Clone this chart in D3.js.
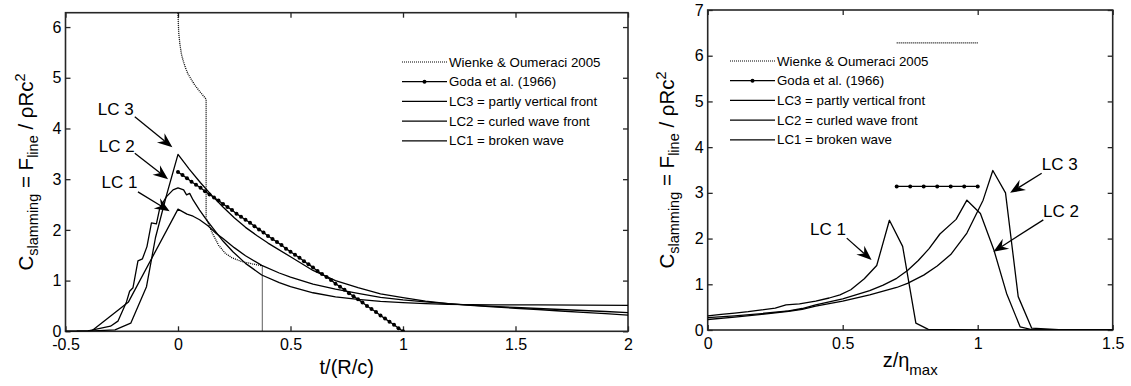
<!DOCTYPE html>
<html><head><meta charset="utf-8">
<script src="https://cdn.jsdelivr.net/npm/d3@7"></script>
<style>
body{margin:0;background:#fff}
svg{display:block}
text{font-family:'Liberation Sans',Arial,Helvetica,sans-serif;fill:#000}
</style>
</head><body>
<svg id="c" width="1131" height="386"></svg>
<script>
// ---------- Left panel data: C_slamming vs t/(R/c) ----------
const tTicksL = [-0.5, 0, 0.5, 1, 1.5, 2];
const tTickLabelsL = ["-0.5", "0", "0.5", "1", "1.5", "2"];
const cTicksL = [0, 1, 2, 3, 4, 5, 6];
const cTickLabelsL = ["0", "1", "2", "3", "4", "5", "6"];
const cMaxL = 6.2832;

const lc1T = [-0.5,-0.45,-0.4,-0.38,-0.22,0,0.04,0.067,0.096,0.133,0.17,0.2,0.25,0.3,0.372,0.45,0.5,0.6,0.7,0.8,0.9,1.0,1.1,1.2,1.3,1.4,1.5,1.6,1.7,1.8,1.9,2.0];
const lc1C = [0,0.002,0.01,0.02,0.58,2.41,2.31,2.27,2.2,2.08,1.93,1.83,1.65,1.49,1.3,1.15,1.07,0.93,0.83,0.75,0.67,0.62,0.58,0.545,0.515,0.49,0.47,0.45,0.43,0.41,0.39,0.37];

const lc2T = [-0.5,-0.45,-0.4,-0.378,-0.3,-0.267,-0.229,-0.215,-0.2,-0.178,-0.158,-0.138,-0.118,-0.096,-0.081,-0.052,-0.022,0,0.025,0.038,0.052,0.067,0.096,0.126,0.156,0.2,0.244,0.3,0.372,0.45,0.5,0.6,0.7,0.8,0.9,1.0,1.1,1.2,1.4,1.6,1.8,2.0];
const lc2C = [0,0.002,0.01,0.03,0.1,0.2,0.58,0.79,0.86,1.39,1.43,1.67,2.14,2.12,2.43,2.65,2.79,2.83,2.79,2.69,2.72,2.59,2.39,2.2,2.03,1.78,1.57,1.34,1.11,0.96,0.88,0.76,0.68,0.63,0.59,0.565,0.545,0.53,0.52,0.52,0.515,0.51];

const lc3T = [-0.5,-0.4,-0.28,-0.21,-0.14,-0.1,-0.05,0,0.05,0.1,0.15,0.2,0.25,0.3,0.35,0.4,0.5,0.6,0.7,0.8,0.9,1.0,1.1,1.2,1.3,1.4,1.5,1.6,1.7,1.8,1.9,2.0];
const lc3C = [0,0.005,0.03,0.16,0.88,1.85,2.7,3.49,3.2,2.93,2.68,2.45,2.24,2.05,1.89,1.74,1.47,1.2,1.0,0.86,0.74,0.665,0.595,0.545,0.51,0.48,0.455,0.43,0.40,0.375,0.35,0.32];

const wienkeT = [0,0.003,0.008,0.015,0.022,0.033,0.044,0.06,0.074,0.1,0.125,0.125,0.15,0.18,0.21,0.24,0.28,0.33,0.375,0.375];
const wienkeC = [6.28,5.9,5.68,5.47,5.35,5.2,5.08,4.96,4.86,4.71,4.58,2.23,1.96,1.7,1.54,1.45,1.38,1.33,1.29,0];

const godaT = [0,0.02,0.04,0.06,0.08,0.1,0.12,0.14,0.16,0.18,0.2,0.22,0.24,0.26,0.28,0.3,0.32,0.34,0.36,0.38,0.4,0.42,0.44,0.46,0.48,0.5,0.52,0.54,0.56,0.58,0.6,0.62,0.64,0.66,0.68,0.7,0.72,0.74,0.76,0.78,0.8,0.82,0.84,0.86,0.88,0.9,0.92,0.94,0.96,0.98,1.0];
const godaC = [3.14,3.08,3.02,2.95,2.89,2.83,2.76,2.70,2.64,2.58,2.51,2.45,2.39,2.32,2.26,2.20,2.14,2.07,2.01,1.95,1.88,1.82,1.76,1.70,1.63,1.57,1.51,1.45,1.38,1.32,1.26,1.19,1.13,1.07,1.01,0.94,0.88,0.82,0.75,0.69,0.63,0.57,0.50,0.44,0.38,0.31,0.25,0.19,0.13,0.06,0.00];

// ---------- Right panel data: C_slamming vs z/eta_max ----------
const zTicksR = [0, 0.5, 1, 1.5];
const zTickLabelsR = ["0", "0.5", "1", "1.5"];
const cTicksR = [0, 1, 2, 3, 4, 5, 6, 7];
const cTickLabelsR = ["0", "1", "2", "3", "4", "5", "6", "7"];

const lc1Z = [0,0.05,0.1,0.15,0.2,0.25,0.29,0.34,0.4,0.45,0.49,0.53,0.58,0.626,0.673,0.722,0.771,0.817,0.9,1.0,1.2,1.5];
const lc1CR = [0.31,0.34,0.37,0.40,0.44,0.48,0.55,0.57,0.63,0.70,0.77,0.88,1.12,1.41,2.40,1.83,0.15,0.015,0.006,0.004,0.002,0];
const lc2Z = [0,0.1,0.2,0.3,0.35,0.4,0.5,0.6,0.65,0.7,0.74,0.78,0.82,0.86,0.92,0.96,1.01,1.06,1.107,1.157,1.2,1.5];
const lc2CR = [0.27,0.31,0.36,0.42,0.47,0.55,0.68,0.86,0.98,1.13,1.30,1.52,1.78,2.10,2.42,2.84,2.55,1.75,0.80,0.07,0.01,0];
const lc3Z = [0,0.1,0.2,0.3,0.35,0.4,0.5,0.6,0.7,0.74,0.8,0.85,0.9,0.96,1.02,1.056,1.103,1.15,1.2,1.3,1.5];
const lc3CR = [0.23,0.28,0.34,0.41,0.45,0.52,0.63,0.77,0.93,1.02,1.2,1.4,1.65,2.12,2.84,3.49,3.0,0.73,0.04,0.005,0];
const wienkeZ = [0.7, 1.0];
const wienkeCR = [6.28, 6.28];
const godaZ = [0.7, 0.75, 0.8, 0.85, 0.9, 0.95, 1.0];
const godaCR = [3.14, 3.14, 3.14, 3.14, 3.14, 3.14, 3.14];

const legendLabels = ["Wienke & Oumeraci 2005", "Goda et al. (1966)", "LC3 = partly vertical front", "LC2 = curled wave front", "LC1 = broken wave"];
const annotLabels = ["LC 3", "LC 2", "LC 1"];

// annotations in data units: [textX, textY, fromX, fromY, tipX, tipY]
const annotL = [[-0.357,4.27,-0.192,4.23,-0.025,3.63],[-0.352,3.54,-0.192,3.51,-0.044,3.0],[-0.34,2.83,-0.178,2.75,-0.037,2.37]];
const annotR = [[1.237,3.50,1.237,3.43,1.12,3.0],[1.242,2.48,1.243,2.41,1.058,1.71],[0.379,2.08,0.515,2.01,0.607,1.53]];

// ---------- drawing ----------
const svg = d3.select("#c");
const AX = "#262626";

const xL = d3.scaleLinear().domain([-0.5, 2]).range([65.5, 628]);
const yL = d3.scaleLinear().domain([0, cMaxL]).range([331.3, 12.7]);
const xR = d3.scaleLinear().domain([0, 1.5]).range([707.7, 1112.7]);
const yR = d3.scaleLinear().domain([0, 7]).range([330, 10]);

function panel(id, x, y, xt, xtl, yt, ytl) {
  const g = svg.append("g");
  const [xa, xb] = x.range(), [ya, yb] = y.range();
  g.append("clipPath").attr("id", id).append("rect")
    .attr("x", xa).attr("y", yb).attr("width", xb - xa).attr("height", ya - yb);
  const ax = [];
  ax.push(g.append("g").attr("transform", `translate(0,${ya})`)
    .call(d3.axisBottom(x).tickValues(xt).tickFormat((d, i) => xtl[i]).tickSizeInner(-5).tickSizeOuter(0).tickPadding(7.5)));
  ax.push(g.append("g").attr("transform", `translate(0,${yb})`)
    .call(d3.axisTop(x).tickValues(xt).tickFormat("").tickSizeInner(-5).tickSizeOuter(0)));
  ax.push(g.append("g").attr("transform", `translate(${xa},0)`)
    .call(d3.axisLeft(y).tickValues(yt).tickFormat((d, i) => ytl[i]).tickSizeInner(-5).tickSizeOuter(0).tickPadding(4)));
  ax.push(g.append("g").attr("transform", `translate(${xb},0)`)
    .call(d3.axisRight(y).tickValues(yt).tickFormat("").tickSizeInner(-5).tickSizeOuter(0)));
  ax.forEach(a => {
    a.select(".domain").remove();
    a.selectAll(".tick line").attr("stroke", AX).attr("stroke-width", 1.3);
    a.selectAll(".tick text").attr("font-size", 16).attr("fill", "#000")
      .attr("font-family", "'Liberation Sans',Arial,sans-serif");
  });
  g.append("rect").attr("x", xa).attr("y", yb).attr("width", xb - xa).attr("height", ya - yb)
    .attr("fill", "none").attr("stroke", AX).attr("stroke-width", 1.6);
  const plot = g.append("g").attr("clip-path", `url(#${id})`);
  return { g, plot };
}

function curve(plot, x, y, xs, ys, opts = {}) {
  const pts = xs.map((v, i) => [v, ys[i]]);
  const line = d3.line().x(d => x(d[0])).y(d => y(d[1]));
  plot.append("path").attr("d", line(pts)).attr("fill", "none")
    .attr("stroke", "#000").attr("stroke-width", opts.w || 1.3)
    .attr("stroke-dasharray", opts.dash || null)
    .attr("stroke-linejoin", "round");
  if (opts.dots) {
    plot.selectAll(null).data(pts).enter().append("circle")
      .attr("cx", d => x(d[0])).attr("cy", d => y(d[1])).attr("r", 2).attr("fill", "#000");
  }
}

function legend(g, x0, y0) {
  legendLabels.forEach((lab, i) => {
    const yy = y0 + i * 19.7;
    g.append("line").attr("x1", x0).attr("x2", x0 + 45).attr("y1", yy).attr("y2", yy)
      .attr("stroke", "#000").attr("stroke-width", i === 0 ? 1.2 : 1.3)
      .attr("stroke-dasharray", i === 0 ? "1,1" : null);
    if (i === 1) g.append("circle").attr("cx", x0 + 22.5).attr("cy", yy).attr("r", 2).attr("fill", "#000");
    g.append("text").attr("x", x0 + 47).attr("y", yy + 4.6).attr("font-size", 13.3).text(lab);
  });
}

function arrow(g, x, y, a) {
  const [tx, ty, fx, fy, px, py] = a;
  const x1 = x(fx), y1 = y(fy), x2 = x(px), y2 = y(py);
  const ang = Math.atan2(y2 - y1, x2 - x1);
  const L = 15, W = 6, N = 10;
  const c = Math.cos(ang), s = Math.sin(ang);
  const bx = x2 - N * c, by = y2 - N * s;
  g.append("line").attr("x1", x1).attr("y1", y1).attr("x2", bx).attr("y2", by)
    .attr("stroke", "#000").attr("stroke-width", 1.3);
  const p1 = [x2 - L * c - W * s, y2 - L * s + W * c];
  const p2 = [x2 - L * c + W * s, y2 - L * s - W * c];
  g.append("path").attr("d", `M${x2},${y2}L${p1[0]},${p1[1]}L${bx},${by}L${p2[0]},${p2[1]}Z`).attr("fill", "#000");
}

// Left panel
const PL = panel("clipL", xL, yL, tTicksL, tTickLabelsL, cTicksL, cTickLabelsL);
curve(PL.plot, xL, yL, wienkeT, wienkeC, { dash: "1,1", w: 1.3 });
curve(PL.plot, xL, yL, godaT, godaC, { dots: true });
curve(PL.plot, xL, yL, lc3T, lc3C);
curve(PL.plot, xL, yL, lc2T, lc2C);
curve(PL.plot, xL, yL, lc1T, lc1C);
legend(PL.g, 402, 62);
annotL.forEach((a, i) => {
  PL.g.append("text").attr("x", xL(a[0])).attr("y", yL(a[1])).attr("font-size", 17).text(annotLabels[i]);
  arrow(PL.g, xL, yL, a);
});

// Right panel
const PR = panel("clipR", xR, yR, zTicksR, zTickLabelsR, cTicksR, cTickLabelsR);
curve(PR.plot, xR, yR, wienkeZ, wienkeCR, { dash: "1,1", w: 1.3 });
curve(PR.plot, xR, yR, godaZ, godaCR, { dots: true });
curve(PR.plot, xR, yR, lc3Z, lc3CR);
curve(PR.plot, xR, yR, lc2Z, lc2CR);
curve(PR.plot, xR, yR, lc1Z, lc1CR);
legend(PR.g, 730, 61);
annotR.forEach((a, i) => {
  PR.g.append("text").attr("x", xR(a[0])).attr("y", yR(a[1])).attr("font-size", 17).text(annotLabels[i]);
  arrow(PR.g, xR, yR, a);
});

// Axis labels
function yLabel(cx, cy) {
  const t = svg.append("text").attr("transform", `translate(${cx},${cy}) rotate(-90)`)
    .attr("text-anchor", "middle").attr("font-size", 20.5);
  t.append("tspan").text("C");
  t.append("tspan").attr("font-size", 14.5).attr("dy", 5).text("slamming");
  t.append("tspan").attr("dy", -5).text(" = F");
  t.append("tspan").attr("font-size", 14.5).attr("dy", 5).text("line");
  t.append("tspan").attr("dy", -5).text(" / ρRc");
  t.append("tspan").attr("font-size", 14.5).attr("dy", -8).text("2");
}
yLabel(33, 172);
yLabel(674, 170);

svg.append("text").attr("x", (xL.range()[0] + xL.range()[1]) / 2).attr("y", 374)
  .attr("text-anchor", "middle").attr("font-size", 20).text("t/(R/c)");
const xlR = svg.append("text").attr("x", (xR.range()[0] + xR.range()[1]) / 2).attr("y", 367)
  .attr("text-anchor", "middle").attr("font-size", 20);
xlR.append("tspan").text("z/η");
xlR.append("tspan").attr("font-size", 15).attr("dy", 8).text("max");
</script>
</body></html>
